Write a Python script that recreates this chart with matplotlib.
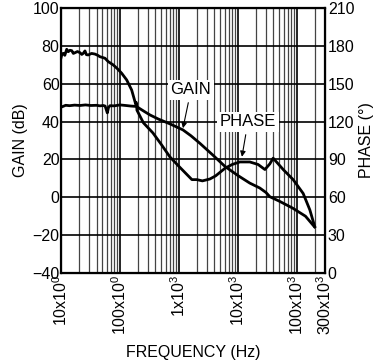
import numpy as np
import matplotlib
matplotlib.use('Agg')
import matplotlib.pyplot as plt
from matplotlib.ticker import LogLocator, NullFormatter

plt.rcParams['font.family'] = ['Liberation Sans', 'DejaVu Sans']

# gain curve (dB)
gain_f = [10, 10.4, 12, 14, 17, 21, 26, 32, 40, 46, 52, 56, 59, 61, 64, 68, 80,
          100, 125, 153, 190, 218, 260, 323, 450, 703, 1170, 1600, 2270, 3760,
          6040, 10000, 15900, 23500, 30000, 34800, 50000, 84600, 140000, 200000]
gain_db = [47.6, 47.8, 48.6, 48.4, 48.7, 48.5, 48.8, 48.5, 48.6, 48.3, 48.5, 48.2,
           46.0, 44.6, 47.5, 48.4, 48.3, 48.8, 48.5, 48.2, 48.0, 46.8, 45.3, 43.5,
           41.3, 38.8, 35.6, 32.5, 28.5, 22.3, 16.3, 11.5, 7.5, 4.9, 2.5, 0.3,
           -2.0, -5.7, -10.0, -15.7]

# phase curve (degrees)
phase_f = [10, 10.3, 10.9, 11.6, 12.5, 13.3, 14.2, 15.2, 16.2, 17.3, 19, 21, 22.5,
           23.9, 25.5, 27, 29, 33, 37.7, 42, 45.8, 55.7, 63.3, 76.9, 90, 106.9,
           130, 157.9, 179.4, 186, 190, 194, 250, 362, 500, 703, 1000, 1368,
           1660, 2017, 2500, 3350, 4200, 6040, 8000, 10800, 15900, 22000, 28700,
           34800, 39600, 58600, 86500, 128000, 166000, 200000]
phase_deg = [170.5, 172.8, 174.1, 172.5, 177.3, 175.4, 176.5, 176.2, 174.0, 174.6,
             175.5, 174.6, 173.2, 174.1, 176.0, 173.0, 172.8, 174.0, 173.5, 172.5,
             171.4, 170.2, 167.5, 164.9, 162.0, 158.3, 153.0, 145.0, 135.9, 133.5,
             135.0, 129.0, 119.0, 111.0, 102.0, 92.0, 84.5, 78.0, 74.0, 74.0, 73.0,
             74.5, 77.0, 83.0, 86.0, 88.0, 88.0, 86.0, 82.0, 86.5, 91.0, 82.0,
             74.0, 63.0, 50.0, 37.0]

xtick_vals = [10, 100, 1000, 10000, 100000, 300000]
xtick_labels = [r'$\mathregular{10x10^0}$', r'$\mathregular{100x10^0}$',
                r'$\mathregular{1x10^3}$', r'$\mathregular{10x10^3}$',
                r'$\mathregular{100x10^3}$', r'$\mathregular{300x10^3}$']
gain_ticks = [-40, -20, 0, 20, 40, 60, 80, 100]
phase_ticks = [0, 30, 60, 90, 120, 150, 180, 210]

fs = 11.5

fig = plt.figure(figsize=(3.77, 3.64), dpi=100)
ax = fig.add_axes([0.1618, 0.25, 0.7003, 0.728])
ax.set_xscale('log')
ax.set_xlim(10, 300000)
ax.set_ylim(-40, 100)
ax.set_yticks(gain_ticks)
ax.set_xticks(xtick_vals)
ax.set_xticklabels(xtick_labels, rotation=90, fontsize=fs)
ax.xaxis.set_minor_locator(LogLocator(base=10, subs=np.arange(2, 10)))
ax.xaxis.set_minor_formatter(NullFormatter())
ax.tick_params(axis='both', which='both', length=0, labelsize=fs, pad=1)
ax.grid(True, which='major', axis='y', color='k', lw=1.2)
ax.grid(True, which='major', axis='x', color='k', lw=1.2)
ax.grid(True, which='minor', axis='x', color='#444444', lw=0.9)
for s in ax.spines.values():
    s.set_linewidth(1.6)
ax.set_ylabel('GAIN (dB)', fontsize=fs, labelpad=3)
ax.set_xlabel('FREQUENCY (Hz)', fontsize=fs, labelpad=7)

ax.plot(gain_f, gain_db, color='k', lw=2.0)

ax2 = ax.twinx()
ax2.set_ylim(0, 210)
ax2.set_yticks(phase_ticks)
ax2.tick_params(axis='y', length=0, labelsize=fs, pad=2)
ax2.set_ylabel('PHASE (°)', fontsize=fs, labelpad=3)
ax2.plot(phase_f, phase_deg, color='k', lw=2.0)

ax.annotate('GAIN', xy=(1170, 36.5), xytext=(1600, 56.7), ha='center', va='center',
            fontsize=12, bbox=dict(boxstyle='square,pad=0.15', fc='white', ec='none'),
            arrowprops=dict(arrowstyle='-|>', color='k', lw=0.8, mutation_scale=8,
                            shrinkA=2, shrinkB=0))
ax.annotate('PHASE', xy=(11700, 21.4), xytext=(14800, 39.8), ha='center', va='center',
            fontsize=12, bbox=dict(boxstyle='square,pad=0.15', fc='white', ec='none'),
            arrowprops=dict(arrowstyle='-|>', color='k', lw=0.8, mutation_scale=8,
                            shrinkA=2, shrinkB=0))

fig.savefig('out.png', dpi=100)
